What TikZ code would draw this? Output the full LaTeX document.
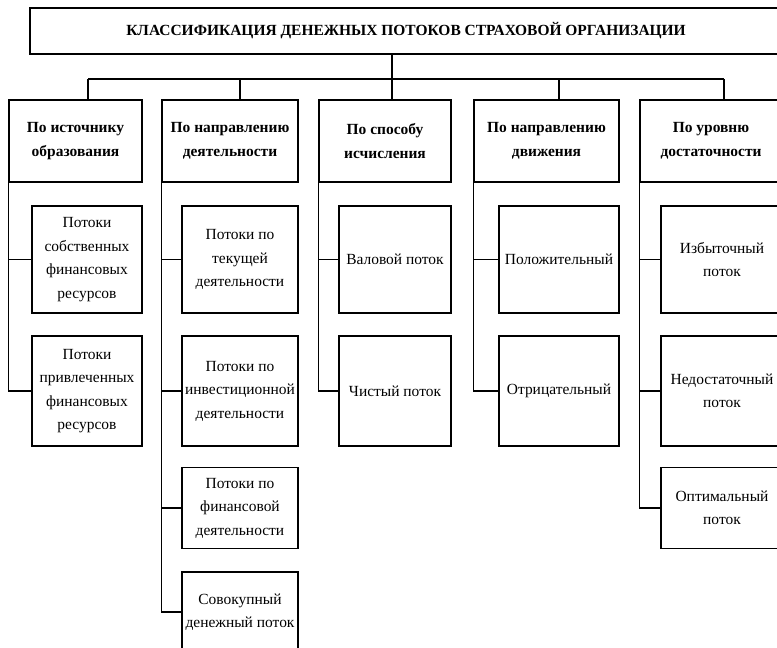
\documentclass[tikz,border=0pt]{standalone}
\usepackage{fontspec}
\setmainfont{Liberation Serif}
\begin{document}
\begin{tikzpicture}[x=0.75pt,y=-0.75pt,line width=0.9pt,
	title box/.style={draw,line width=1.6pt,inner sep=2pt,font=\fontsize{11.6}{17.6}\selectfont\bfseries},
	cat box/.style={draw,align=center,inner sep=1pt,minimum height=82*0.75pt,font=\fontsize{11.6}{17.6}\selectfont\bfseries},
	sub box/.style={draw,align=center,inner sep=1pt,font=\fontsize{11.6}{17.6}\selectfont}
]
	\useasboundingbox (0,0) rectangle (777,648);
	\clip (0,0) rectangle (777,648);

	% title
	\node[title box,minimum width=752*0.75pt,minimum height=46*0.75pt] at (406,31) (title)
		{КЛАССИФИКАЦИЯ ДЕНЕЖНЫХ ПОТОКОВ СТРАХОВОЙ ОРГАНИЗАЦИИ};

	% classification features
	\node[cat box,minimum width=133*0.75pt] at (75.5,141) (c1) {По источнику\\образования};
	\node[cat box,minimum width=136*0.75pt] at (230,141) (c2) {По направлению\\деятельности};
	\node[cat box,minimum width=132*0.75pt] at (385,141) (c3) {По способу\\исчисления};
	\node[cat box,minimum width=145*0.75pt] at (546.5,141) (c4) {По направлению\\движения};
	\node[cat box,minimum width=142*0.75pt] at (711,141) (c5) {По уровню\\достаточности};

	% kinds of flows
	\node[sub box,minimum width=110*0.75pt,minimum height=107*0.75pt] at (87,259.5) (s11) {Потоки\\собственных\\финансовых\\ресурсов};
	\node[sub box,minimum width=110*0.75pt,minimum height=110*0.75pt] at (87,391) (s12) {Потоки\\привлеченных\\финансовых\\ресурсов};

	\node[sub box,minimum width=116*0.75pt,minimum height=107*0.75pt] at (240,259.5) (s21) {Потоки по\\текущей\\деятельности};
	\node[sub box,minimum width=116*0.75pt,minimum height=110*0.75pt] at (240,391) (s22) {Потоки по\\инвестиционной\\деятельности};
	\node[sub box,minimum width=116*0.75pt,minimum height=81*0.75pt] at (240,508) (s23) {Потоки по\\финансовой\\деятельности};
	\node[sub box,minimum width=116*0.75pt,minimum height=80*0.75pt] at (240,612) (s24) {Совокупный\\денежный поток};

	\node[sub box,minimum width=112*0.75pt,minimum height=107*0.75pt] at (395,259.5) (s31) {Валовой поток};
	\node[sub box,minimum width=112*0.75pt,minimum height=110*0.75pt] at (395,391) (s32) {Чистый поток};

	\node[sub box,minimum width=120*0.75pt,minimum height=107*0.75pt] at (559,259.5) (s41) {Положительный};
	\node[sub box,minimum width=120*0.75pt,minimum height=110*0.75pt] at (559,391) (s42) {Отрицательный};

	\node[sub box,minimum width=122*0.75pt,minimum height=107*0.75pt] at (722,259.5) (s51) {Избыточный\\поток};
	\node[sub box,minimum width=122*0.75pt,minimum height=110*0.75pt] at (722,391) (s52) {Недостаточный\\поток};
	\node[sub box,minimum width=122*0.75pt,minimum height=81*0.75pt] at (722,508) (s53) {Оптимальный\\поток};

	% connectors
	\coordinate (d1) at (88,79);
	\coordinate (d2) at (240,79);
	\coordinate (d3) at (392,79);
	\coordinate (d4) at (559,79);
	\coordinate (d5) at (724,79);
	\draw (title.south -| d3) -- (d3);
	\draw (d1) -- (d5);
	\foreach \i in {1,...,5}
		\draw (d\i) -- (d\i |- c\i.north);

	\foreach \s in {s11,s12}
		\draw (c1.south west) |- (\s.west);
	\foreach \s in {s21,s22,s23,s24}
		\draw (c2.south west) |- (\s.west);
	\foreach \s in {s31,s32}
		\draw (c3.south west) |- (\s.west);
	\foreach \s in {s41,s42}
		\draw (c4.south west) |- (\s.west);
	\foreach \s in {s51,s52,s53}
		\draw (c5.south west) |- (\s.west);
\end{tikzpicture}
\end{document}
